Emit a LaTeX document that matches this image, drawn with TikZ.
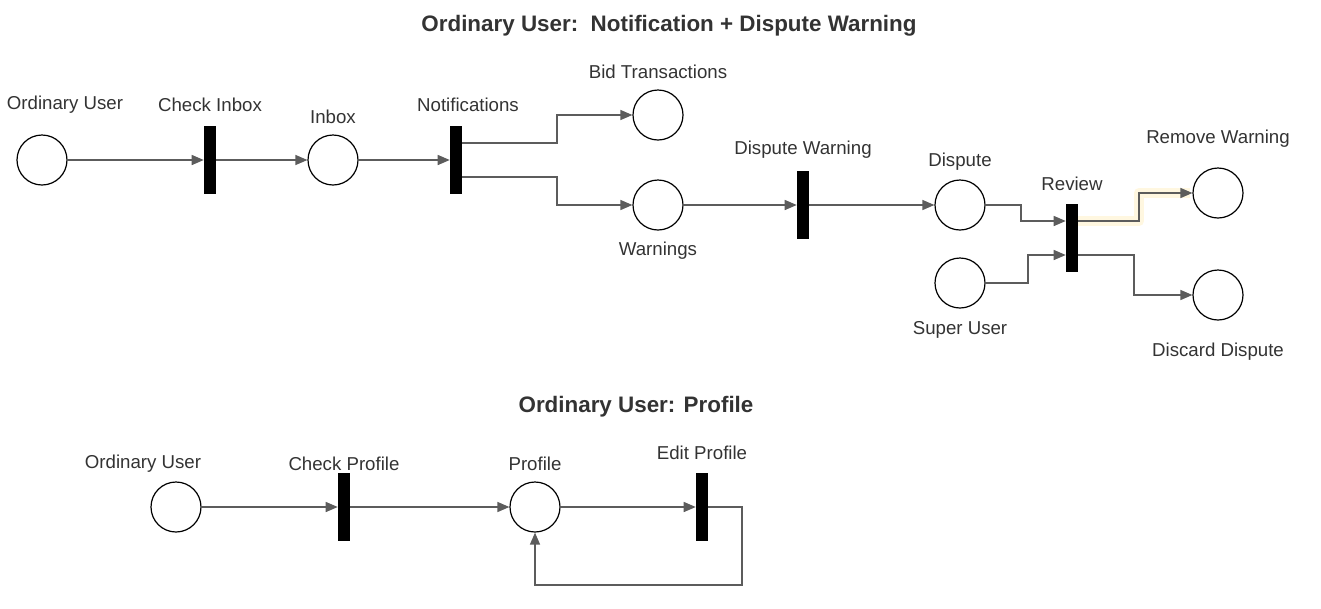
\documentclass[tikz,border=0pt]{standalone}
\usepackage{fontspec}
\setmainfont{Liberation Sans}
\usetikzlibrary{arrows.meta,calc}
\definecolor{txt}{HTML}{333333}
\definecolor{lncol}{HTML}{5C5C5C}
\definecolor{glow}{HTML}{FFF7E0}
\begin{document}
\begin{tikzpicture}[x=0.75pt,y=-0.75pt,
  place/.style={circle,draw=black,line width=0.9pt,minimum size=37.5pt,inner sep=0pt,fill=white},
  trans/.style={rectangle,fill=black,minimum width=9pt,minimum height=51pt,inner sep=0pt},
  lbl/.style={text=txt,font=\fontsize{14}{17}\selectfont,inner sep=0pt},
  ttl/.style={text=txt,font=\fontsize{16.8}{20}\selectfont\bfseries,inner sep=0pt},
  arr/.style={draw=lncol,line width=1pt,-{Triangle[length=9pt,width=7.5pt]}}]
\useasboundingbox (0,0) rectangle (1321,608);

% titles
\node[ttl] (title1) at (669,26) {Ordinary User:\ \ Notification + Dispute Warning};
\node[ttl] (title2) at (636,407) {Ordinary User: Profile};

% top net
\node[place] (ou1) at (42,160) {};
\node[trans] (ci) at (210,160) {};
\node[place] (inbox) at (333,160) {};
\node[trans] (notif) at (456,160) {};
\node[place] (bid) at (658,115) {};
\node[place] (warn) at (658,205) {};
\node[trans] (dw) at (803,205) {};
\node[place] (disp) at (960,205) {};
\node[trans] (rev) at (1072,238) {};
\node[place] (su) at (960,283) {};
\node[place] (rw) at (1218,193) {};
\node[place] (dd) at (1218,295) {};

\node[lbl] (l-ou1) at (65,105) {Ordinary User};
\node[lbl] (l-ci) at (210,105) {Check Inbox};
\node[lbl] (l-inbox) at (333,117) {Inbox};
\node[lbl] (l-notif) at (468,105) {Notifications};
\node[lbl] (l-bid) at (658,72) {Bid Transactions};
\node[lbl] (l-warn) at (658,251) {Warnings};
\node[lbl] (l-dw) at (803,150) {Dispute Warning};
\node[lbl] (l-disp) at (960,162) {Dispute};
\node[lbl] (l-rev) at (1072,184) {Review};
\node[lbl] (l-su) at (960,330) {Super User};
\node[lbl] (l-rw) at (1218,139) {Remove Warning};
\node[lbl] (l-dd) at (1218,352) {Discard Dispute};

\draw[arr] (ou1) -- (ci);
\draw[arr] (ci) -- (inbox);
\draw[arr] (inbox) -- (notif);
\draw[arr] (notif.east |- 0,143) -- (557,143) |- (bid.west);
\draw[arr] (notif.east |- 0,177) -- (557,177) |- (warn.west);
\draw[arr] (warn) -- (dw);
\draw[arr] (dw) -- (disp);
\draw[arr] (disp.east) -- (1021,205) |- (rev.west |- 0,221);
\draw[arr] (su.east) -- (1028,283) |- (rev.west |- 0,255);
\draw[glow,line width=8pt,line join=round] (rev.east |- 0,221) -- (1139,221) |- (1190,193);
\draw[arr] (rev.east |- 0,221) -- (1139,221) |- (rw.west);
\draw[arr] (rev.east |- 0,255) -- (1134,255) |- (dd.west);

% bottom net
\node[place] (ou2) at (176,507) {};
\node[trans] (cp) at (344,507) {};
\node[place] (prof) at (535,507) {};
\node[trans] (ep) at (702,507) {};

\node[lbl] (l-ou2) at (143,464) {Ordinary User};
\node[lbl] (l-cp) at (344,464) {Check Profile};
\node[lbl] (l-prof) at (535,464) {Profile};
\node[lbl] (l-ep) at (702,453) {Edit Profile};

\draw[arr] (ou2) -- (cp);
\draw[arr] (cp) -- (prof);
\draw[arr] (prof) -- (ep);
\draw[arr] (ep.east) -- (742,507) |- (535,585) -- (prof.south);
\end{tikzpicture}
\end{document}
